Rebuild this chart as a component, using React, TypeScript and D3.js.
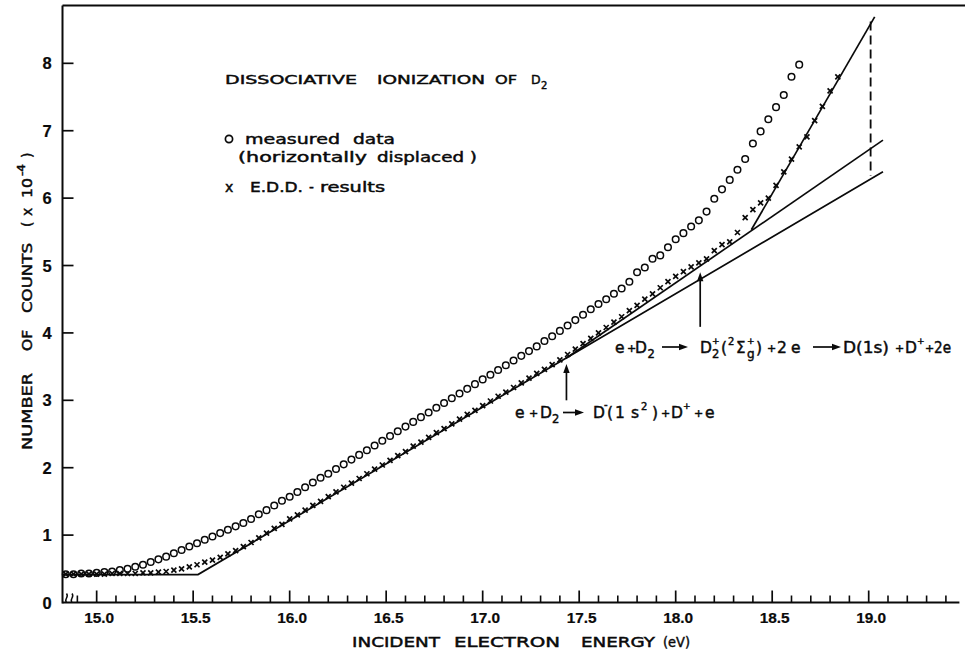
import React from 'react';
import * as d3 from 'd3';

const W = 965;
const H = 650;

// ---- axis ticks ----
const majorTicks = [15.0, 15.5, 16.0, 16.5, 17.0, 17.5, 18.0, 18.5, 19.0];
const majorLabels = ['15.0', '15.5', '16.0', '16.5', '17.0', '17.5', '18.0', '18.5', '19.0'];
const minorTicks = [
  14.9, 15.1, 15.2, 15.3, 15.4, 15.6, 15.7, 15.8, 15.9, 16.1, 16.2, 16.3, 16.4,
  16.6, 16.7, 16.8, 16.9, 17.1, 17.2, 17.3, 17.4, 17.6, 17.7, 17.8, 17.9,
  18.1, 18.2, 18.3, 18.4, 18.6, 18.7, 18.8, 18.9, 19.1, 19.2, 19.3, 19.4,
];
const yTicks = [0, 1, 2, 3, 4, 5, 6, 7, 8];
const yLabels = ['0', '1', '2', '3', '4', '5', '6', '7', '8'];

// ---- measured data (circles, horizontally displaced) ----
const measuredE = [
  14.84, 14.88, 14.92, 14.96, 15.00, 15.04, 15.08, 15.12, 15.16, 15.20,
  15.24, 15.28, 15.32, 15.36, 15.40, 15.44, 15.48, 15.52, 15.56, 15.60,
  15.64, 15.68, 15.72, 15.76, 15.80, 15.84, 15.88, 15.92, 15.96, 16.00,
  16.04, 16.08, 16.12, 16.16, 16.20, 16.24, 16.28, 16.32, 16.36, 16.40,
  16.44, 16.48, 16.52, 16.56, 16.60, 16.64, 16.68, 16.72, 16.76, 16.80,
  16.84, 16.88, 16.92, 16.96, 17.00, 17.04, 17.08, 17.12, 17.16, 17.20,
  17.24, 17.28, 17.32, 17.36, 17.40, 17.44, 17.48, 17.52, 17.56, 17.60,
  17.64, 17.68, 17.72, 17.76, 17.80, 17.84, 17.88, 17.92, 17.96, 18.00,
  18.04, 18.08, 18.12, 18.16, 18.20, 18.24, 18.28, 18.32, 18.36, 18.40,
  18.44, 18.48, 18.52, 18.56, 18.60, 18.64,
];
const measuredN = [
  0.42, 0.42, 0.43, 0.43, 0.44, 0.45, 0.46, 0.48, 0.50, 0.53,
  0.56, 0.60, 0.64, 0.68, 0.73, 0.78, 0.83, 0.88, 0.93, 0.98,
  1.03, 1.08, 1.13, 1.18, 1.24, 1.31, 1.37, 1.44, 1.51, 1.57,
  1.64, 1.71, 1.78, 1.85, 1.91, 1.98, 2.05, 2.12, 2.19, 2.26,
  2.33, 2.40, 2.47, 2.54, 2.61, 2.68, 2.75, 2.82, 2.89, 2.96,
  3.03, 3.10, 3.17, 3.24, 3.31, 3.38, 3.45, 3.52, 3.59, 3.66,
  3.73, 3.80, 3.88, 3.95, 4.03, 4.11, 4.19, 4.27, 4.35, 4.43,
  4.50, 4.58, 4.66, 4.76, 4.90, 4.97, 5.10, 5.15, 5.27, 5.39,
  5.48, 5.58, 5.67, 5.80, 5.99, 6.13, 6.27, 6.42, 6.58, 6.81,
  6.99, 7.17, 7.35, 7.53, 7.80, 7.98,
];

// ---- E.D.D. results (crosses) ----
const eddE = [
  14.84, 14.88, 14.92, 14.96, 15.00, 15.04, 15.08, 15.12, 15.16, 15.20,
  15.24, 15.28, 15.32, 15.36, 15.40, 15.44, 15.48, 15.52, 15.56, 15.60,
  15.64, 15.68, 15.72, 15.76, 15.80, 15.84, 15.88, 15.92, 15.96, 16.00,
  16.04, 16.08, 16.12, 16.16, 16.20, 16.24, 16.28, 16.32, 16.36, 16.40,
  16.44, 16.48, 16.52, 16.56, 16.60, 16.64, 16.68, 16.72, 16.76, 16.80,
  16.84, 16.88, 16.92, 16.96, 17.00, 17.04, 17.08, 17.12, 17.16, 17.20,
  17.24, 17.28, 17.32, 17.36, 17.40, 17.44, 17.48, 17.52, 17.56, 17.60,
  17.64, 17.68, 17.72, 17.76, 17.80, 17.84, 17.88, 17.92, 17.96, 18.00,
  18.04, 18.08, 18.12, 18.16, 18.20, 18.24, 18.28, 18.32, 18.36, 18.40,
  18.44, 18.48, 18.52, 18.56, 18.60, 18.64, 18.68, 18.72, 18.76, 18.80,
  18.84,
];
const eddN = [
  0.42, 0.42, 0.42, 0.42, 0.42, 0.42, 0.43, 0.43, 0.43, 0.43,
  0.44, 0.44, 0.45, 0.46, 0.48, 0.50, 0.53, 0.56, 0.60, 0.63,
  0.67, 0.72, 0.77, 0.83, 0.89, 0.96, 1.03, 1.10, 1.16, 1.24,
  1.30, 1.37, 1.44, 1.50, 1.57, 1.64, 1.71, 1.77, 1.84, 1.91,
  1.98, 2.04, 2.11, 2.18, 2.24, 2.32, 2.38, 2.45, 2.52, 2.58,
  2.65, 2.72, 2.79, 2.85, 2.92, 2.99, 3.06, 3.12, 3.19, 3.26,
  3.33, 3.40, 3.46, 3.53, 3.60, 3.68, 3.76, 3.84, 3.92, 4.00,
  4.08, 4.16, 4.24, 4.33, 4.41, 4.50, 4.58, 4.67, 4.76, 4.84,
  4.91, 4.98, 5.04, 5.10, 5.22, 5.31, 5.35, 5.49, 5.71, 5.83,
  5.93, 6.00, 6.19, 6.39, 6.58, 6.76, 6.91, 7.15, 7.36, 7.59,
  7.80,
];

// ---- solid model lines ----
const baseLineE = [14.823, 15.525, 19.074];
const baseLineN = [0.415, 0.415, 6.39];
const midLineE = [17.43, 19.074];
const midLineN = [3.62, 6.86];
const steepLineE = [18.392, 19.031];
const steepLineN = [5.53, 8.69];
const dashE = [19.01, 19.01];
const dashN = [8.62, 6.33];

// ---- annotation arrows (energy, from count, to count) ----
const arrowE = [17.434, 18.127];
const arrowFrom = [3.0, 4.09];
const arrowTo = [3.54, 4.9];

const x = d3.scaleLinear().domain([14.823, 19.5]).range([62.5, 965.2]);
const y = d3.scaleLinear().domain([0, 8.858]).range([602.5, 5.5]);

const line = d3
  .line<[number, number]>()
  .x((d) => x(d[0]))
  .y((d) => y(d[1]));

const zip = (a: number[], b: number[]) => a.map((v, i) => [v, b[i]] as [number, number]);

const SANS = "'DejaVu Sans', 'Liberation Sans', sans-serif";
const NUM = "'Liberation Sans', Arial, sans-serif";
const INK = '#0a0a0a';

function T(props: {
  x: number;
  y: number;
  s: string;
  size?: number;
  tl?: number;
  weight?: string | number;
  anchor?: string;
  family?: string;
  thick?: number;
}) {
  const { x: px, y: py, s, size = 15.5, tl, weight, anchor, family = SANS, thick = 0.45 } = props;
  return (
    <text
      x={px}
      y={py}
      fontSize={size}
      fontFamily={family}
      fontWeight={weight as any}
      textAnchor={anchor as any}
      textLength={tl}
      lengthAdjust={tl ? 'spacingAndGlyphs' : undefined}
      fill={INK}
      stroke={INK}
      strokeWidth={thick}
    >
      {s}
    </text>
  );
}

function HArrow({ x1, x2, yy }: { x1: number; x2: number; yy: number }) {
  return (
    <g>
      <line x1={x1} y1={yy} x2={x2 - 6} y2={yy} stroke={INK} strokeWidth={1.7} />
      <path d={`M${x2},${yy} L${x2 - 9},${yy - 3.2} L${x2 - 9},${yy + 3.2} Z`} fill={INK} />
    </g>
  );
}

export default function App() {
  const B1 = 353;
  const B2 = 418;
  return (
    <svg
      width={W}
      height={H}
      style={{ position: 'absolute', left: 0, top: 0, background: '#fff' }}
      xmlns="http://www.w3.org/2000/svg"
    >
      <rect x={0} y={0} width={W} height={H} fill="#fff" />

      {/* frame: top border and axes */}
      <line x1={x(14.823)} y1={y(8.858)} x2={W} y2={y(8.858)} stroke={INK} strokeWidth={2} />
      <line x1={x(14.823)} y1={y(8.858)} x2={x(14.823)} y2={y(0) + 1} stroke={INK} strokeWidth={2} />
      <line x1={x(14.823)} y1={y(0)} x2={x(19.47)} y2={y(0)} stroke={INK} strokeWidth={2} />

      {/* x ticks */}
      {majorTicks.map((t) => (
        <line key={'M' + t} x1={x(t)} x2={x(t)} y1={y(0)} y2={y(0) - 12} stroke={INK} strokeWidth={1.7} />
      ))}
      {minorTicks.map((t) => (
        <line key={'m' + t} x1={x(t)} x2={x(t)} y1={y(0)} y2={y(0) - 7} stroke={INK} strokeWidth={1.6} />
      ))}
      {majorTicks.map((t, i) => (
        <T key={'L' + t} x={x(t) + 2.5} y={623} s={majorLabels[i]} size={15} weight="bold" anchor="middle" family={NUM} tl={30} thick={0.2} />
      ))}

      {/* axis break marks */}
      <path d="M66.5,602 C63.5,599.5 69.5,597 66.5,593.5" fill="none" stroke={INK} strokeWidth={1.5} />
      <path d="M72,602 C69,599.5 75,597 72,593.5" fill="none" stroke={INK} strokeWidth={1.5} />

      {/* y ticks */}
      {yTicks.map((t) =>
        t === 0 ? null : (
          <line key={'y' + t} x1={x(14.823)} x2={x(14.823) + 11} y1={y(t)} y2={y(t)} stroke={INK} strokeWidth={1.7} />
        )
      )}
      {yTicks.map((t, i) => (
        <T key={'yl' + t} x={47} y={y(t) + 6} s={yLabels[i]} size={16.5} weight="bold" anchor="middle" family={NUM} thick={0.2} />
      ))}

      {/* axis titles */}
      <T x={352} y={647} s="INCIDENT" size={14} tl={88} />
      <T x={454} y={647} s="ELECTRON" size={14} tl={106} />
      <T x={581} y={647} s="ENERGY" size={14} tl={74} />
      <T x={663} y={647} s="(eV)" size={14} tl={27} />
      <g transform="translate(32,450) rotate(-90)">
        <T x={0} y={0} s="NUMBER" size={14} tl={77} />
        <T x={99} y={0} s="OF" size={14} tl={21} />
        <T x={137} y={0} s="COUNTS" size={14} tl={70} />
        <T x={223} y={0} s="(" size={14} />
        <T x={234} y={0} s="x" size={14} />
        <T x={252} y={0} s="10" size={14} tl={20} />
        <T x={274} y={-7} s="-4" size={10} tl={12} />
        <T x={292} y={0} s=")" size={14} />
      </g>

      {/* title and legend */}
      <T x={225} y={84} s="DISSOCIATIVE" size={12.5} tl={132} />
      <T x={377} y={84} s="IONIZATION" size={12.5} tl={108} />
      <T x={495} y={84} s="OF" size={12.5} tl={22} />
      <T x={531} y={84} s="D" size={12.5} />
      <T x={541} y={89} s="2" size={10} />

      <circle cx={229} cy={139} r={3.6} fill="none" stroke={INK} strokeWidth={1.7} />
      <T x={245} y={143.5} s="measured" size={14} tl={95} />
      <T x={353} y={143.5} s="data" size={14} tl={42} />
      <T x={238} y={162} s="(horizontally" size={14} tl={129} />
      <T x={377} y={162} s="displaced )" size={14} tl={100} />
      <T x={225} y={191.5} s="x" size={14} />
      <T x={250} y={191.5} s="E.D.D." size={13.5} tl={53} />
      <T x={309} y={191.5} s="-" size={13.5} />
      <T x={320} y={191.5} s="results" size={13.5} tl={65} />

      {/* model lines */}
      <path d={line(zip(baseLineE, baseLineN)) || ''} fill="none" stroke={INK} strokeWidth={1.7} />
      <path d={line(zip(midLineE, midLineN)) || ''} fill="none" stroke={INK} strokeWidth={1.7} />
      <path d={line(zip(steepLineE, steepLineN)) || ''} fill="none" stroke={INK} strokeWidth={1.7} />
      <path d={line(zip(dashE, dashN)) || ''} fill="none" stroke={INK} strokeWidth={1.8} strokeDasharray="9,5" />

      {/* measured circles */}
      {measuredE.map((e, i) => (
        <circle key={'c' + i} cx={x(e)} cy={y(measuredN[i])} r={3.3} fill="none" stroke={INK} strokeWidth={1.5} />
      ))}

      {/* EDD crosses */}
      {eddE.map((e, i) => (
        <path
          key={'x' + i}
          transform={`translate(${x(e)},${y(eddN[i])})`}
          d="M-2.5,-2.5L2.5,2.5M-2.5,2.5L2.5,-2.5"
          stroke={INK}
          strokeWidth={1.7}
        />
      ))}

      {/* vertical annotation arrows */}
      {arrowE.map((e, i) => (
        <g key={'a' + i}>
          <line x1={x(e)} x2={x(e)} y1={y(arrowFrom[i])} y2={y(arrowTo[i]) + 7} stroke={INK} strokeWidth={1.7} />
          <path
            d={`M${x(e)},${y(arrowTo[i])} L${x(e) - 3.2},${y(arrowTo[i]) + 9} L${x(e) + 3.2},${y(arrowTo[i]) + 9} Z`}
            fill={INK}
          />
        </g>
      ))}

      {/* reaction 1 */}
      <T x={615} y={B1} s="e" />
      <T x={627} y={B1 - 1} s="+" size={11} />
      <T x={635} y={B1} s="D" />
      <T x={647.5} y={B1 + 5} s="2" size={11.5} />
      <HArrow x1={662} x2={688} yy={347} />
      <T x={700} y={B1} s="D" />
      <T x={712} y={B1 - 9} s="+" size={9} />
      <T x={712} y={B1 + 5} s="2" size={11.5} />
      <T x={721} y={B1} s="(" />
      <T x={728} y={B1 - 8} s="2" size={10} />
      <T x={736} y={B1} s="Σ" size={15} />
      <T x={747} y={B1 - 9} s="+" size={9} />
      <T x={747} y={B1 + 5} s="g" size={12} />
      <T x={756} y={B1} s=")" />
      <T x={767} y={B1 - 1} s="+" size={11} />
      <T x={777} y={B1} s="2" />
      <T x={791} y={B1} s="e" />
      <HArrow x1={813} x2={841} yy={347} />
      <T x={843} y={B1} s="D(1s)" tl={46} />
      <T x={895} y={B1 - 1} s="+" size={11} />
      <T x={905} y={B1} s="D" />
      <T x={917} y={B1 - 9} s="+" size={9} />
      <T x={925} y={B1 - 1} s="+" size={11} />
      <T x={934} y={B1} s="2e" tl={17} />

      {/* reaction 2 */}
      <T x={515} y={B2} s="e" />
      <T x={529} y={B2 - 1} s="+" size={11} />
      <T x={540} y={B2} s="D" />
      <T x={552} y={B2 + 5} s="2" size={11.5} />
      <HArrow x1={563} x2={584} yy={412.5} />
      <T x={593} y={B2} s="D" />
      <T x={604} y={B2 - 10} s="-" size={10} />
      <T x={607} y={B2} s="(" />
      <T x={615} y={B2} s="1" />
      <T x={631} y={B2} s="s" />
      <T x={641} y={B2 - 8} s="2" size={10} />
      <T x={652} y={B2} s=")" />
      <T x={661} y={B2 - 1} s="+" size={11} />
      <T x={671} y={B2} s="D" />
      <T x={683} y={B2 - 9} s="+" size={9} />
      <T x={694} y={B2 - 1} s="+" size={11} />
      <T x={705} y={B2} s="e" />
    </svg>
  );
}
